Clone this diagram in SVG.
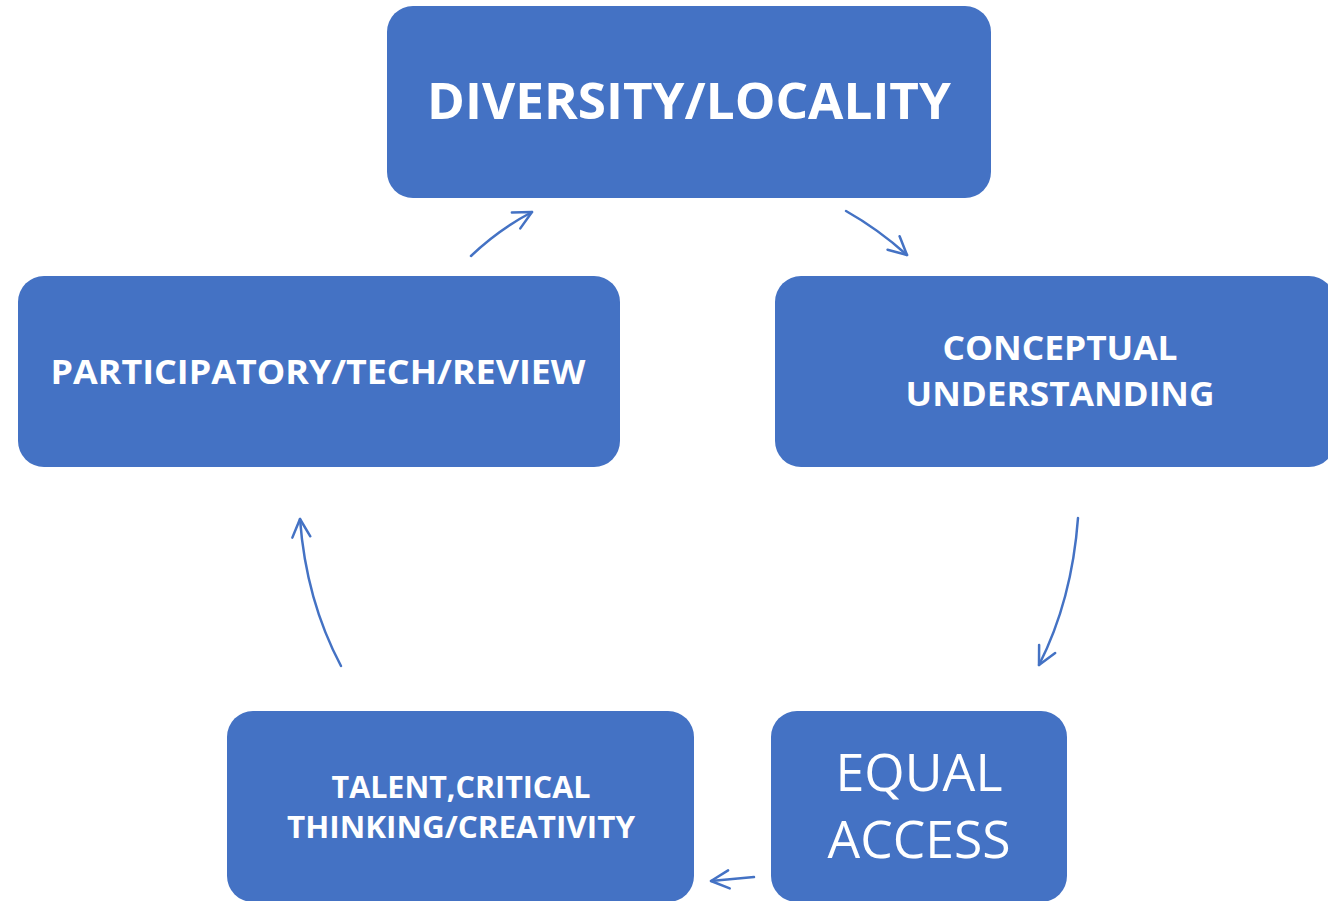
<svg xmlns="http://www.w3.org/2000/svg" width="1328" height="901" viewBox="0 0 1328 901">
<style>
.box{fill:#4472C4;}
.t{fill:#fff;font-family:"Open Sans","Liberation Sans",sans-serif;font-weight:bold;text-anchor:middle;}
.n{fill:#fff;font-family:"Open Sans","Liberation Sans",sans-serif;font-weight:normal;text-anchor:middle;}
.c{fill:none;stroke:#4472C4;stroke-width:2.5;stroke-linecap:round;}
</style>
<defs>
<marker id="ah2" viewBox="0 0 24 24" refX="21" refY="12" markerWidth="24" markerHeight="24" markerUnits="userSpaceOnUse" orient="auto">
<path d="M3,3 L21,12 L3,21" fill="none" stroke="#4472C4" stroke-width="2.5" stroke-linecap="round" stroke-linejoin="round"/>
</marker>
</defs>
<rect width="1328" height="901" fill="#fff"/>
<g id="node-diversity">
<rect class="box" x="387" y="6" width="604" height="192" rx="26"/>
<text class="t" x="689" y="119" font-size="50" textLength="524" lengthAdjust="spacingAndGlyphs">DIVERSITY/LOCALITY</text>
</g>
<g id="node-participatory">
<rect class="box" x="18" y="276" width="602" height="191" rx="26"/>
<text class="t" x="318" y="384" font-size="34" textLength="535" lengthAdjust="spacingAndGlyphs">PARTICIPATORY/TECH/REVIEW</text>
</g>
<g id="node-conceptual">
<rect class="box" x="775" y="276" width="560" height="191" rx="26"/>
<text class="t" x="1060" y="360" font-size="34" textLength="235" lengthAdjust="spacingAndGlyphs">CONCEPTUAL</text>
<text class="t" x="1060" y="406" font-size="34" textLength="309" lengthAdjust="spacingAndGlyphs">UNDERSTANDING</text>
</g>
<g id="node-talent">
<rect class="box" x="227" y="711" width="467" height="191" rx="26"/>
<text class="t" x="461" y="798" font-size="30" textLength="259" lengthAdjust="spacingAndGlyphs">TALENT,CRITICAL</text>
<text class="t" x="461" y="838" font-size="30" textLength="348" lengthAdjust="spacingAndGlyphs">THINKING/CREATIVITY</text>
</g>
<g id="node-equal">
<rect class="box" x="771" y="711" width="296" height="191" rx="26"/>
<text class="n" x="919" y="791" font-size="52" textLength="167" lengthAdjust="spacingAndGlyphs">EQUAL</text>
<text class="n" x="919" y="858" font-size="52" textLength="183" lengthAdjust="spacingAndGlyphs">ACCESS</text>
</g>
<g id="connectors">
<path class="c" d="M471,256 Q498,230 532,212" marker-end="url(#ah2)"/>
<path class="c" d="M846,211 Q878,229 907,255" marker-end="url(#ah2)"/>
<path class="c" d="M1078,518 Q1072,600 1039,665" marker-end="url(#ah2)"/>
<path class="c" d="M754,877 Q733,879 711,881" marker-end="url(#ah2)"/>
<path class="c" d="M341,666 Q306,600 300,519" marker-end="url(#ah2)"/>
</g>
</svg>
